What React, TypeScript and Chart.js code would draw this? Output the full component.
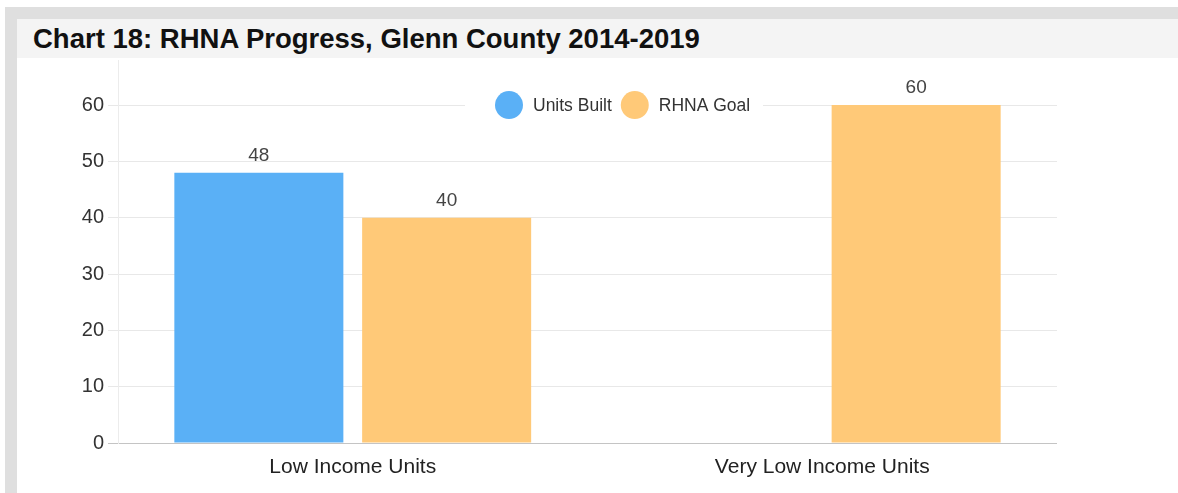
import React, { useEffect, useRef } from "react";
import { Chart, registerables } from "chart.js";

Chart.register(...registerables);

const titleText = "Chart 18: RHNA Progress, Glenn County 2014-2019";
const categories = ["Low Income Units", "Very Low Income Units"];
const seriesNames = ["Units Built", "RHNA Goal"];
const unitsBuilt: (number | null)[] = [48, null];
const rhnaGoal: (number | null)[] = [40, 60];
const yTicks = [0, 10, 20, 30, 40, 50, 60];
const yMax = 68;

const BLUE = "#5AB0F6";
const ORANGE = "#FFC978";
const FONT = "'Liberation Sans', Arial, Helvetica, sans-serif";

const valueLabels = {
  id: "valueLabels",
  afterDatasetsDraw(chart: any) {
    const ctx = chart.ctx;
    ctx.save();
    ctx.font = `19px ${FONT}`;
    ctx.fillStyle = "#444";
    ctx.textAlign = "center";
    ctx.textBaseline = "alphabetic";
    chart.data.datasets.forEach((ds: any, di: number) => {
      const meta = chart.getDatasetMeta(di);
      meta.data.forEach((el: any, i: number) => {
        const v = ds.data[i];
        if (v === null || v === undefined) return;
        ctx.fillText(String(v), el.x, el.y - 12);
      });
    });
    ctx.restore();
  },
};

const insideLegend = {
  id: "insideLegend",
  afterDraw(chart: any) {
    const ctx = chart.ctx;
    const area = chart.chartArea;
    const yScale = chart.scales.y;
    const cy = yScale.getPixelForValue(yTicks[yTicks.length - 1]);
    ctx.save();
    ctx.fillStyle = "#ffffff";
    ctx.fillRect(area.left + 347, cy - 15, 298, 30);
    ctx.font = `17.5px ${FONT}`;
    ctx.textBaseline = "middle";
    ctx.textAlign = "left";
    let x = area.left + 377;
    const r = 14;
    chart.data.datasets.forEach((ds: any) => {
      ctx.beginPath();
      ctx.fillStyle = ds.backgroundColor;
      ctx.arc(x + r, cy, r, 0, Math.PI * 2);
      ctx.fill();
      x += 2 * r + 10;
      ctx.fillStyle = "#333";
      ctx.fillText(ds.label, x, cy + 1);
      x += ctx.measureText(ds.label).width + 9;
    });
    ctx.restore();
  },
};

export default function App() {
  const canvasRef = useRef<HTMLCanvasElement | null>(null);

  useEffect(() => {
    if (!canvasRef.current) return;
    const chart = new Chart(canvasRef.current, {
      type: "bar",
      data: {
        labels: categories,
        datasets: [
          { label: seriesNames[0], data: unitsBuilt, backgroundColor: BLUE },
          { label: seriesNames[1], data: rhnaGoal, backgroundColor: ORANGE },
        ],
      },
      options: {
        animation: false,
        responsive: true,
        maintainAspectRatio: false,
        layout: { padding: { top: 2, right: 121, left: 0, bottom: 0 } },
        plugins: {
          legend: { display: false },
          title: { display: false },
          tooltip: { enabled: false },
        },
        scales: {
          x: {
            grid: { display: false, drawTicks: false },
            border: { display: false },
            ticks: { font: { family: FONT, size: 21 }, color: "#222", padding: 12 },
            afterFit: (s: any) => {
              s.height = 50;
            },
          },
          y: {
            min: 0,
            max: yMax,
            afterBuildTicks: (s: any) => {
              s.ticks = yTicks.map((v) => ({ value: v }));
            },
            grid: {
              color: (c: any) => (c.tick && c.tick.value === 0 ? "#c4c4c4" : "#e8e8e8"),
              tickLength: 10,
            },
            border: { display: true, color: "#ececec" },
            ticks: { font: { family: FONT, size: 20 }, color: "#333", padding: 4 },
            afterFit: (s: any) => {
              s.width = 101;
              s.paddingTop = 0;
              s.paddingBottom = 0;
            },
          },
        },
      },
      plugins: [valueLabels, insideLegend],
    });
    return () => chart.destroy();
  }, []);

  return (
    <div style={{ position: "absolute", left: 0, top: 0, width: 1178, height: 493, background: "#fff", overflow: "hidden" }}>
      <div style={{ position: "absolute", left: 5, top: 7, width: 1173, height: 486, background: "#dfdfdf" }} />
      <div
        style={{
          position: "absolute",
          left: 17,
          top: 19,
          width: 1161,
          height: 39,
          background: "#f4f4f4",
          fontFamily: FONT,
          fontWeight: "bold",
          fontSize: 27.5,
          lineHeight: "39px",
          color: "#111",
          paddingLeft: 16,
          boxSizing: "border-box",
          whiteSpace: "nowrap",
        }}
      >
        {titleText}
      </div>
      <div style={{ position: "absolute", left: 17, top: 58, width: 1161, height: 435, background: "#fff" }}>
        <canvas ref={canvasRef} />
      </div>
    </div>
  );
}
